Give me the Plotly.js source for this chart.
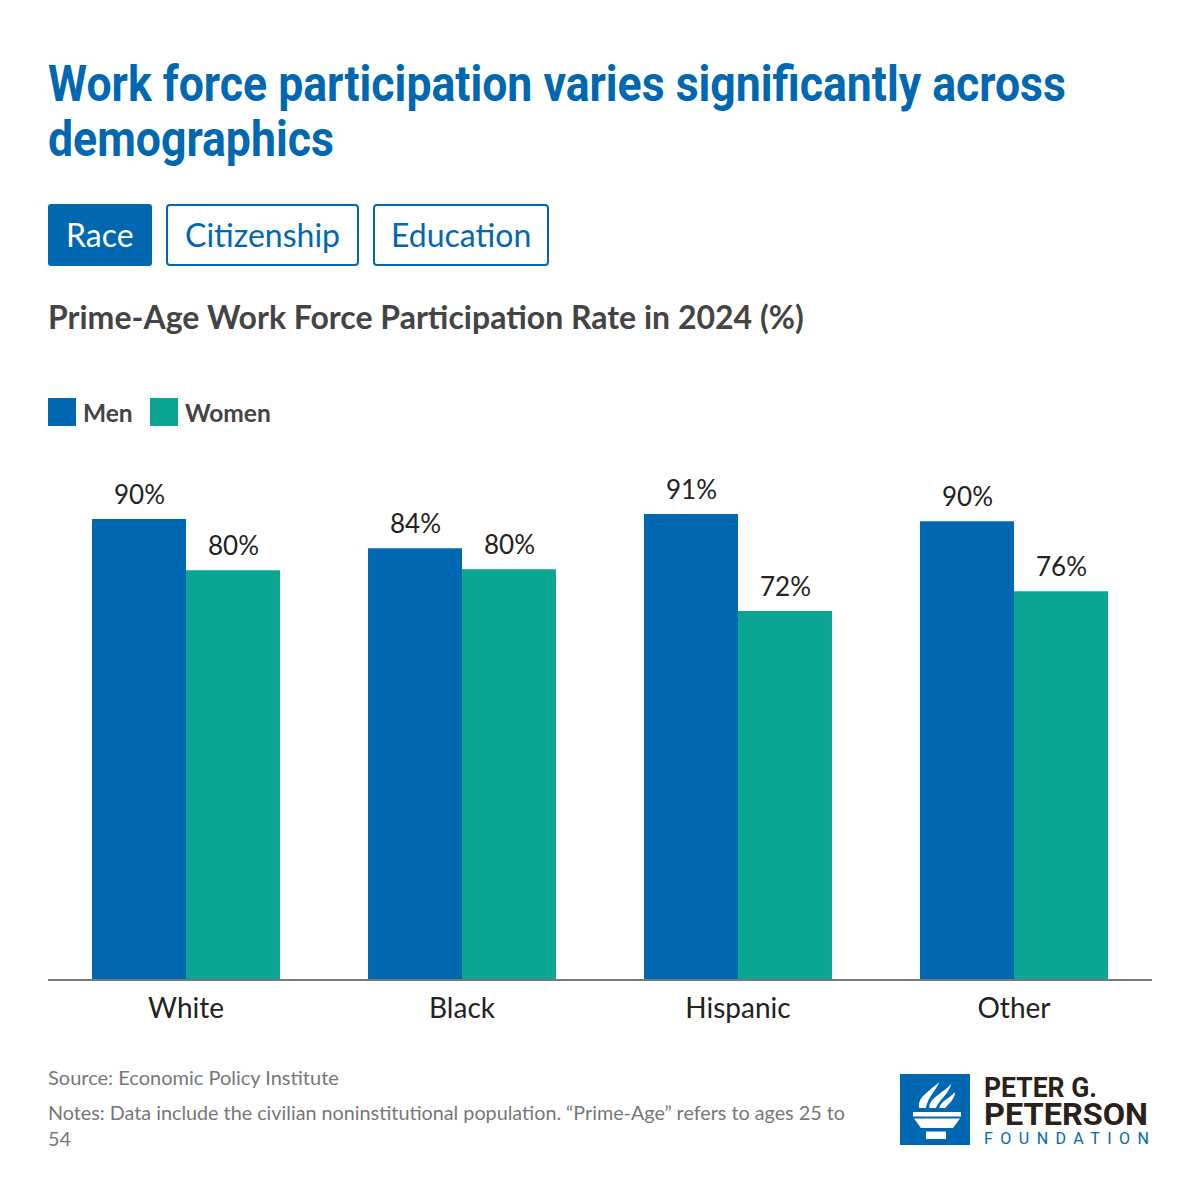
<!DOCTYPE html>
<html>
<head>
<meta charset="utf-8">
<script src="https://cdn.plot.ly/plotly-3.0.1.min.js"></script>
<style>
html,body{margin:0;padding:0;background:#fff;}
#chart{width:1200px;height:1200px;}
</style>
</head>
<body>
<div id="chart"></div>
<script>
// ---- data ----
const categories = ['White', 'Black', 'Hispanic', 'Other'];
const seriesNames = ['Men', 'Women'];
const menValues = [90.0, 84.3, 91.0, 89.6];
const womenValues = [80.0, 80.2, 72.0, 75.9];
const menLabels = ['90%', '84%', '91%', '90%'];
const womenLabels = ['80%', '80%', '72%', '76%'];
const tabLabels = ['Race', 'Citizenship', 'Education'];
const titleLines = ['Work force participation varies significantly across', 'demographics'];
const subtitleText = 'Prime-Age Work Force Participation Rate in 2024 (%)';
const sourceText = 'Source: Economic Policy Institute';
const notesText = 'Notes: Data include the civilian noninstitutional population. \u201CPrime-Age\u201D refers to ages 25 to<br>54';
const logoLines = ['PETER G.', 'PETERSON', 'FOUNDATION'];

// ---- styling / geometry ----
const BLUE = '#0067B1';
const TEAL = '#0BA594';
const W = 1200, H = 1200;
const M = {l: 48, r: 48, t: 440, b: 221};
const plotW = W - M.l - M.r, plotH = H - M.t - M.b;
const xp = px => (px - M.l) / plotW;
const yp = py => (H - M.b - py) / plotH;
const LATO = 'Lato, "Open Sans", sans-serif';
const COND = 'Roboto, "Liberation Sans", sans-serif';

const traces = [
  {type: 'bar', name: seriesNames[0], x: categories, y: menValues,
   marker: {color: BLUE}, hoverinfo: 'none'},
  {type: 'bar', name: seriesNames[1], x: categories, y: womenValues,
   marker: {color: TEAL}, hoverinfo: 'none'}
];

const annotations = [];
const shapes = [];
const fits = {};      // annotation index -> target text width (px), horizontal fit
const spaced = {};    // annotation index -> target width via letter spacing

// bar value labels
[menLabels, womenLabels].forEach((labels, s) => {
  const vals = s === 0 ? menValues : womenValues;
  labels.forEach((t, i) => {
    annotations.push({x: categories[i], y: vals[i], xref: 'x', yref: 'y',
      xshift: s === 0 ? -47 : 47, yshift: 7, yanchor: 'bottom', xanchor: 'center',
      showarrow: false, text: t, font: {family: LATO, size: 26, color: '#222'}});
  });
});

// title lines
const titleY = [84, 139];
const titleIdx = [];
titleLines.forEach((t, i) => {
  titleIdx.push(annotations.length);
  annotations.push({x: xp(46), y: yp(titleY[i]), xref: 'paper', yref: 'paper',
    xanchor: 'left', yanchor: 'middle', showarrow: false, text: t,
    font: {family: COND, size: 50, color: BLUE, weight: 'bold'}});
});

// tab buttons
function rrect(x0, y0, x1, y1, r) {
  const X = xp, Y = yp;
  return `M${X(x0+r)},${Y(y0)} L${X(x1-r)},${Y(y0)} Q${X(x1)},${Y(y0)} ${X(x1)},${Y(y0+r)} ` +
         `L${X(x1)},${Y(y1-r)} Q${X(x1)},${Y(y1)} ${X(x1-r)},${Y(y1)} L${X(x0+r)},${Y(y1)} ` +
         `Q${X(x0)},${Y(y1)} ${X(x0)},${Y(y1-r)} L${X(x0)},${Y(y0+r)} Q${X(x0)},${Y(y0)} ${X(x0+r)},${Y(y0)} Z`;
}
const tabX = [[48, 152], [166, 359], [373, 549]];
tabLabels.forEach((t, i) => {
  const [a, b] = tabX[i];
  const active = i === 0;
  shapes.push({type: 'path', xref: 'paper', yref: 'paper',
    path: active ? rrect(a, 204, b, 266, 3) : rrect(a + 1, 205, b - 1, 265, 3),
    fillcolor: active ? BLUE : '#fff', line: {color: BLUE, width: active ? 0 : 2}});
  annotations.push({x: xp((a + b) / 2), y: yp(235), xref: 'paper', yref: 'paper',
    xanchor: 'center', yanchor: 'middle', showarrow: false, text: t,
    font: {family: LATO, size: 32, color: active ? '#fff' : BLUE}});
});

// subtitle
annotations.push({x: xp(46), y: yp(316), xref: 'paper', yref: 'paper', xanchor: 'left',
  yanchor: 'middle', showarrow: false, text: subtitleText,
  font: {family: LATO, size: 32, color: '#444', weight: 'bold'}});

// legend
const legX = [[48, 76], [150, 178]];
seriesNames.forEach((n, i) => {
  const [a, b] = legX[i];
  shapes.push({type: 'rect', xref: 'paper', yref: 'paper', x0: xp(a), x1: xp(b),
    y0: yp(426), y1: yp(398), fillcolor: i === 0 ? BLUE : TEAL, line: {width: 0}});
  annotations.push({x: xp(b + 5), y: yp(412), xref: 'paper', yref: 'paper', xanchor: 'left',
    yanchor: 'middle', showarrow: false, text: n,
    font: {family: LATO, size: 24.5, color: '#444', weight: 'bold'}});
});

// source & notes
annotations.push({x: xp(46), y: yp(1077), xref: 'paper', yref: 'paper', xanchor: 'left',
  yanchor: 'middle', showarrow: false, text: sourceText,
  font: {family: LATO, size: 20, color: '#777'}});
annotations.push({x: xp(46), y: yp(1125), xref: 'paper', yref: 'paper', xanchor: 'left',
  yanchor: 'middle', showarrow: false, align: 'left', text: notesText,
  font: {family: LATO, size: 19.75, color: '#777'}});

// logo
shapes.push({type: 'rect', xref: 'paper', yref: 'paper', x0: xp(900), x1: xp(970),
  y0: yp(1145), y1: yp(1074), fillcolor: BLUE, line: {width: 0}});
function pathPx(pts) {
  return pts.map(p => typeof p === 'string' ? p : `${xp(p[0])},${yp(p[1])}`).join(' ');
}
const iconPaths = [
  ['M', [913, 1112], 'L', [961, 1112], 'L', [961, 1116.5], 'L', [913, 1116.5], 'Z'],
  ['M', [914, 1118.5], 'L', [960, 1118.5], 'L', [953, 1128], 'L', [921, 1128], 'Z'],
  ['M', [926, 1131.5], 'L', [946, 1131.5], 'L', [946, 1139], 'L', [926, 1139], 'Z']
];
const Z = (zx, zy) => [898 + zx / 3, 1072 + zy / 3];
const flames = [
  ['M', Z(64, 108), 'C', Z(56, 78), Z(92, 58), Z(124, 30), 'C', Z(112, 58), Z(88, 78), Z(84, 108), 'Z'],
  ['M', Z(94, 108), 'C', Z(92, 80), Z(130, 66), Z(160, 36), 'C', Z(152, 66), Z(122, 86), Z(114, 108), 'Z'],
  ['M', Z(124, 108), 'C', Z(126, 90), Z(152, 80), Z(172, 60), 'C', Z(168, 86), Z(150, 96), Z(142, 108), 'Z']
];
iconPaths.concat(flames).forEach(p => {
  shapes.push({type: 'path', xref: 'paper', yref: 'paper', path: pathPx(p).replace(/([MLCZ]) /g, '$1'),
    fillcolor: '#fff', line: {width: 0}});
});
const logoCfg = [
  {y: 1087, size: 28, color: '#2a2119', w: 113},
  {y: 1114, size: 31, color: '#2a2119', w: 164},
  {y: 1138, size: 16, color: BLUE, w: 165}
];
logoLines.forEach((t, i) => {
  if (i < 2) fits[annotations.length] = logoCfg[i].w; else spaced[annotations.length] = logoCfg[i].w;
  annotations.push({x: xp(982), y: yp(logoCfg[i].y), xref: 'paper', yref: 'paper', xanchor: 'left',
    yanchor: 'middle', showarrow: false, text: t,
    font: {family: COND, size: logoCfg[i].size, color: logoCfg[i].color, weight: i < 2 ? 'bold' : 'normal'}});
});

const layout = {
  width: W, height: H,
  margin: M,
  paper_bgcolor: '#fff', plot_bgcolor: '#fff',
  showlegend: false,
  barmode: 'group', bargap: 0.319, bargroupgap: 0,
  xaxis: {type: 'category', showline: true, linecolor: '#777', linewidth: 2,
    ticks: '', showgrid: false, zeroline: false, ticklabelstandoff: 3,
    tickfont: {family: LATO, size: 28, color: '#222'}},
  yaxis: {range: [0, plotH / 5.11], visible: false, showgrid: false, zeroline: false, fixedrange: true},
  annotations: annotations,
  shapes: shapes,
  hovermode: false
};

function textEl(idx) {
  return document.querySelector(`.annotation[data-index="${idx}"] text.annotation-text`);
}
function scaleX(el, s) {
  const bx = el.getBBox().x;
  el.setAttribute('transform', `translate(${bx},0) scale(${s},1) translate(${-bx},0)`);
}

Plotly.newPlot('chart', traces, layout, {displayModeBar: false, staticPlot: true}).then(() => {
  // condensed title: fit first line to its width in the reference, same factor for both lines
  const t0 = textEl(titleIdx[0]);
  if (t0) {
    const s = 1018 / t0.getBBox().width;
    titleIdx.forEach(i => { const el = textEl(i); if (el) scaleX(el, s); });
  }
  Object.keys(fits).forEach(k => {
    const el = textEl(k);
    if (el) scaleX(el, fits[k] / el.getBBox().width);
  });
  Object.keys(spaced).forEach(k => {
    const el = textEl(k);
    if (!el) return;
    const b0 = el.getBBox();
    const n = el.textContent.length;
    const ls = (spaced[k] - b0.width) / (n - 1);
    el.style.letterSpacing = ls + 'px';
    const b1 = el.getBBox();
    el.setAttribute('transform', `translate(${b0.x - b1.x},0)`);
  });
});
</script>
</body>
</html>
